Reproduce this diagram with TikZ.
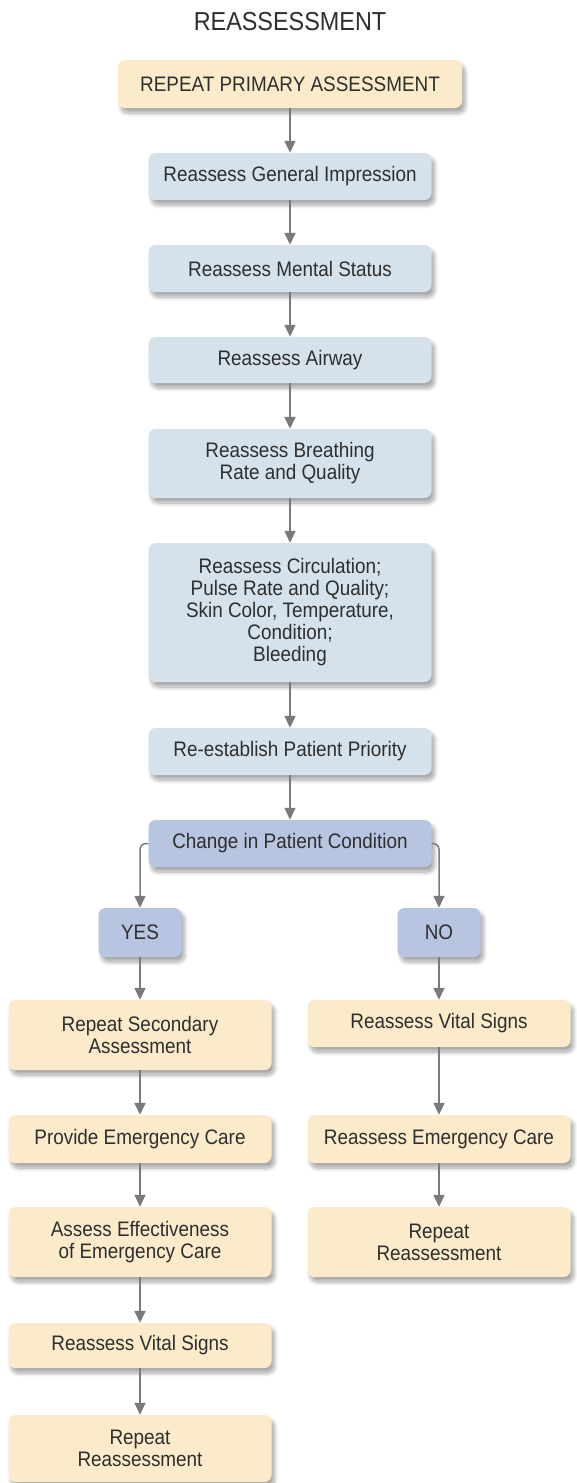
\documentclass[tikz,border=0pt]{standalone}
\usepackage{fontspec}
\setmainfont{Liberation Sans}[FakeStretch=0.9]
\usetikzlibrary{arrows.meta,shadows.blur}
\definecolor{cream}{HTML}{FCEBCB}
\definecolor{paleblue}{HTML}{D6E2EB}
\definecolor{lavblue}{HTML}{B8C5E0}
\definecolor{txt}{HTML}{2E2E2E}
\definecolor{arr}{HTML}{7A7A7A}
\begin{document}
\begin{tikzpicture}[x=1pt,y=-1pt,
  box/.style={rectangle, rounded corners=7pt, inner sep=0pt, align=center, text=txt,
    font=\fontsize{21}{22}\selectfont,
    blur shadow={shadow xshift=3pt, shadow yshift=-5pt, shadow opacity=35, shadow blur steps=10, shadow blur radius=4pt}},
  creambox/.style={box, fill=cream},
  bluebox/.style={box, fill=paleblue, minimum width=283pt},
  lavbox/.style={box, fill=lavblue},
  colbox/.style={creambox, minimum width=263pt},
  conn/.style={draw=arr, line width=1.5pt, -{Triangle[width=11pt,length=12pt]}, arr},
  title/.style={text=txt, font=\fontsize{26}{28}\selectfont}
]
\useasboundingbox (0,0) rectangle (577,1483);

\node[title] (title) at (290,22) {REASSESSMENT};

\node[creambox, minimum width=344pt, minimum height=48pt] (b1) at (290,84) {REPEAT PRIMARY ASSESSMENT};

\node[bluebox, minimum height=47pt] (gi) at (290,176.5) {Reassess General Impression};
\node[bluebox, minimum height=47pt] (ms) at (290,268.5) {Reassess Mental Status};
\node[bluebox, minimum height=46pt] (aw) at (290,360) {Reassess Airway};
\node[bluebox, minimum height=69pt] (br) at (290,463.5) {Reassess Breathing\\Rate and Quality};
\node[bluebox, minimum height=139pt] (ci) at (290,612.5) {Reassess Circulation;\\Pulse Rate and Quality;\\Skin Color, Temperature,\\Condition;\\Bleeding};
\node[bluebox, minimum height=47pt] (re) at (290,751.5) {Re-establish Patient Priority};
\node[lavbox, minimum width=283pt, minimum height=47pt] (ch) at (290,843.5) {Change in Patient Condition};

\node[lavbox, minimum width=83pt, minimum height=49pt] (yes) at (140,932.5) {YES};
\node[lavbox, minimum width=83pt, minimum height=49pt] (no) at (439,932.5) {NO};

\node[colbox, minimum height=70pt] (l1) at (140,1035) {Repeat Secondary\\Assessment};
\node[colbox, minimum height=48pt] (l2) at (140,1139) {Provide Emergency Care};
\node[colbox, minimum height=70pt] (l3) at (140,1242) {Assess Effectiveness\\of Emergency Care};
\node[colbox, minimum height=45pt] (l4) at (140,1345.5) {Reassess Vital Signs};
\node[colbox, minimum height=67pt] (l5) at (140,1448.5) {Repeat\\Reassessment};

\node[colbox, minimum height=47pt] (r1) at (439,1023.5) {Reassess Vital Signs};
\node[colbox, minimum height=48pt] (r2) at (439,1139) {Reassess Emergency Care};
\node[colbox, minimum height=70pt] (r3) at (439,1242) {Repeat\\Reassessment};

\draw[conn] (b1.south) -- (gi.north);
\draw[conn] (gi.south) -- (ms.north);
\draw[conn] (ms.south) -- (aw.north);
\draw[conn] (aw.south) -- (br.north);
\draw[conn] (br.south) -- (ci.north);
\draw[conn] (ci.south) -- (re.north);
\draw[conn] (re.south) -- (ch.north);
\draw[conn, rounded corners=6pt] (ch.west) -| (yes.north);
\draw[conn, rounded corners=6pt] (ch.east) -| (no.north);
\draw[conn] (yes.south) -- (l1.north);
\draw[conn] (l1.south) -- (l2.north);
\draw[conn] (l2.south) -- (l3.north);
\draw[conn] (l3.south) -- (l4.north);
\draw[conn] (l4.south) -- (l5.north);
\draw[conn] (no.south) -- (r1.north);
\draw[conn] (r1.south) -- (r2.north);
\draw[conn] (r2.south) -- (r3.north);
\end{tikzpicture}
\end{document}
